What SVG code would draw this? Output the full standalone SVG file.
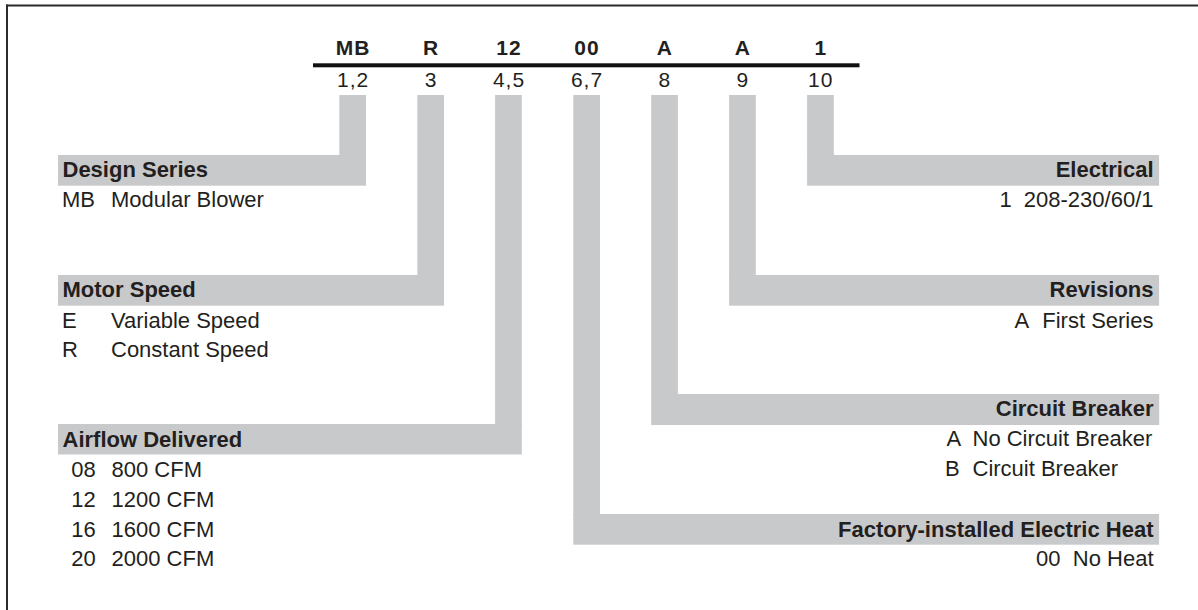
<svg xmlns="http://www.w3.org/2000/svg" width="1198" height="610" viewBox="0 0 1198 610">
<style>
.bar{fill:#c8c9cb}
.t{font-family:"Liberation Sans",Arial,sans-serif;fill:#231f20}
.code{font-size:21px;font-weight:bold;text-anchor:middle;letter-spacing:1px}
.pos{font-size:21px;text-anchor:middle;letter-spacing:1px}
.h{font-size:22px;font-weight:bold}
.b{font-size:22px}
.e{text-anchor:end}
</style>
<rect width="1198" height="610" fill="#fff"/>
<g id="frame" fill="#2b2b2b">
<rect x="6" y="4.5" width="1192" height="2"/>
<rect x="6" y="4.5" width="2" height="605.5"/>
</g>
<g id="code">
<g class="t code">
<text x="353.2" y="55">MB</text>
<text x="431.1" y="55">R</text>
<text x="509" y="55">12</text>
<text x="587" y="55">00</text>
<text x="664.9" y="55">A</text>
<text x="742.8" y="55">A</text>
<text x="820.8" y="55">1</text>
</g>
<rect x="313" y="63.3" width="546.5" height="4" fill="#111"/>
<g class="t pos">
<text x="353.2" y="86.5">1,2</text>
<text x="431.1" y="86.5">3</text>
<text x="509" y="86.5">4,5</text>
<text x="587" y="86.5">6,7</text>
<text x="664.9" y="86.5">8</text>
<text x="742.8" y="86.5">9</text>
<text x="820.8" y="86.5">10</text>
</g>
</g>
<g id="connectors" class="bar">
<rect x="339.3" y="95" width="26.7" height="62"/>
<rect x="417.3" y="95" width="26.7" height="182"/>
<rect x="495.1" y="95" width="26.7" height="331"/>
<rect x="573.3" y="95" width="26.7" height="421"/>
<rect x="651.2" y="95" width="26.7" height="301"/>
<rect x="729.1" y="95" width="26.7" height="182"/>
<rect x="807.1" y="95" width="26.7" height="62"/>
</g>
<g id="design-series">
<rect class="bar" x="58" y="155" width="308" height="30.7"/>
<text class="t h" x="62.5" y="177.3">Design Series</text>
<text class="t b" x="62" y="207.3">MB</text>
<text class="t b" x="111" y="207.3">Modular Blower</text>
</g>
<g id="motor-speed">
<rect class="bar" x="58" y="275" width="386" height="30.7"/>
<text class="t h" x="62.5" y="297.3">Motor Speed</text>
<text class="t b" x="62" y="327.7">E</text>
<text class="t b" x="111" y="327.7">Variable Speed</text>
<text class="t b" x="62" y="357.3">R</text>
<text class="t b" x="111" y="357.3">Constant Speed</text>
</g>
<g id="airflow-delivered">
<rect class="bar" x="58" y="424" width="463.8" height="30.5"/>
<text class="t h" x="62.5" y="446.7">Airflow Delivered</text>
<text class="t b" x="71.3" y="476.7">08</text>
<text class="t b" x="111.5" y="476.7">800 CFM</text>
<text class="t b" x="71.3" y="506.7">12</text>
<text class="t b" x="111.5" y="506.7">1200 CFM</text>
<text class="t b" x="71.3" y="536.7">16</text>
<text class="t b" x="111.5" y="536.7">1600 CFM</text>
<text class="t b" x="71.3" y="566.3">20</text>
<text class="t b" x="111.5" y="566.3">2000 CFM</text>
</g>
<g id="electrical">
<rect class="bar" x="807.1" y="155" width="352" height="30.7"/>
<text class="t h e" x="1153.5" y="177.3">Electrical</text>
<text class="t b" x="999.5" y="207.3">1</text>
<text class="t b e" x="1153.5" y="207.3">208-230/60/1</text>
</g>
<g id="revisions">
<rect class="bar" x="729.1" y="275" width="430" height="30.7"/>
<text class="t h e" x="1153.5" y="297.3">Revisions</text>
<text class="t b" x="1014.5" y="327.7">A</text>
<text class="t b e" x="1153.5" y="327.7">First Series</text>
</g>
<g id="circuit-breaker">
<rect class="bar" x="651.2" y="394" width="508" height="31"/>
<text class="t h e" x="1153.5" y="416">Circuit Breaker</text>
<text class="t b" x="946.5" y="446">A</text>
<text class="t b" x="972.5" y="446">No Circuit Breaker</text>
<text class="t b" x="945" y="475.7">B</text>
<text class="t b" x="972.5" y="475.7">Circuit Breaker</text>
</g>
<g id="electric-heat">
<rect class="bar" x="573.3" y="514" width="585.8" height="30.7"/>
<text class="t h e" x="1153.5" y="536.7">Factory-installed Electric Heat</text>
<text class="t b" x="1036" y="566.3">00</text>
<text class="t b e" x="1153.5" y="566.3">No Heat</text>
</g>
</svg>
